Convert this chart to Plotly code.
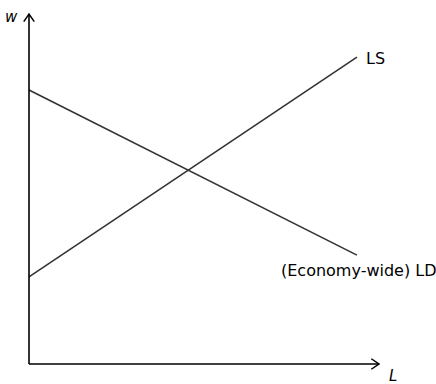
import plotly.graph_objects as go

# Data (economic units: L on x, w on y)
ls_L = [0.0, 9.37]
ls_w = [2.49, 8.77]
ld_L = [0.0, 9.37]
ld_w = [7.83, 3.11]
axis_max_L = 10.0
axis_max_w = 10.0
labels = {"LS": (9.57, 8.74), "(Economy-wide) LD": (7.14, 2.66)}

FONT = "DejaVu Sans"
LINE_COLOR = "#333333"
HEAD_LEN = 0.22
HEAD_HALF = 0.15

fig = go.Figure()
fig.add_trace(go.Scatter(x=ls_L, y=ls_w, mode="lines",
                         line=dict(color=LINE_COLOR, width=1.6), hoverinfo="skip"))
fig.add_trace(go.Scatter(x=ld_L, y=ld_w, mode="lines",
                         line=dict(color=LINE_COLOR, width=1.6), hoverinfo="skip"))

shapes = [
    # axes
    dict(type="line", x0=0, y0=0, x1=axis_max_L, y1=0, xref="x", yref="y",
         line=dict(color="black", width=1.6)),
    dict(type="line", x0=0, y0=0, x1=0, y1=axis_max_w, xref="x", yref="y",
         line=dict(color="black", width=1.6)),
    # open arrowheads
    dict(type="path", xref="x", yref="y",
         path=f"M {axis_max_L - HEAD_LEN},{HEAD_HALF} L {axis_max_L},0 L {axis_max_L - HEAD_LEN},{-HEAD_HALF}",
         line=dict(color="black", width=1.5)),
    dict(type="path", xref="x", yref="y",
         path=f"M {-HEAD_HALF},{axis_max_w - HEAD_LEN} L 0,{axis_max_w} L {HEAD_HALF},{axis_max_w - HEAD_LEN}",
         line=dict(color="black", width=1.5)),
]

annotations = []
for txt, (lx, ly) in labels.items():
    annotations.append(dict(x=lx, y=ly, text=txt, showarrow=False, xanchor="left", yanchor="middle",
                            font=dict(family=FONT, size=16, color="black")))
annotations.append(dict(x=-0.49, y=9.91, text="<i>w</i>", showarrow=False,
                        xanchor="center", yanchor="middle",
                        font=dict(family=FONT, size=15, color="black")))
annotations.append(dict(x=10.4, y=-0.33, text="<i>L</i>", showarrow=False,
                        xanchor="center", yanchor="middle",
                        font=dict(family=FONT, size=15, color="black")))

fig.update_layout(
    width=436, height=384,
    margin=dict(l=0, r=0, t=0, b=0),
    paper_bgcolor="white", plot_bgcolor="white",
    showlegend=False,
    xaxis=dict(range=[-29 / 35, 407 / 35], visible=False, fixedrange=True),
    yaxis=dict(range=[-20 / 35, 364 / 35], visible=False, fixedrange=True),
    annotations=annotations,
    shapes=shapes,
)
fig.write_html("out.html", config={"displayModeBar": False},
               post_script="document.body.style.margin='0';document.body.style.overflow='hidden';")
